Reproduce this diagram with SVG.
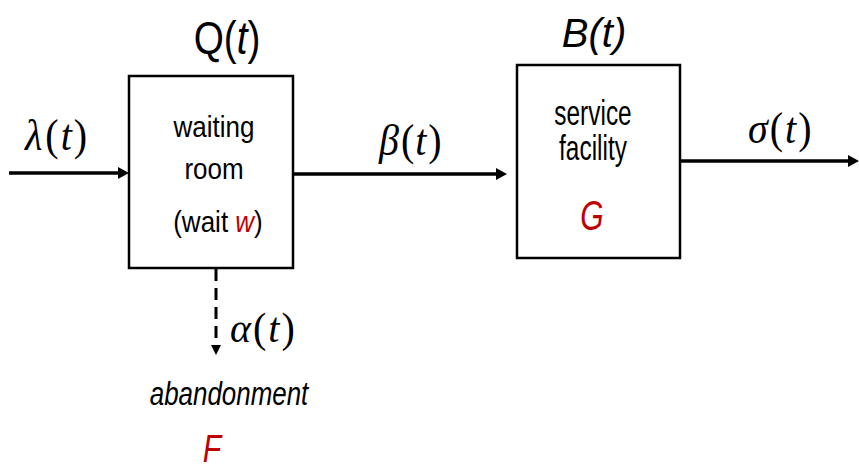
<svg xmlns="http://www.w3.org/2000/svg" width="859" height="470" viewBox="0 0 859 470">
<style>
.box{fill:#fff;stroke:#000;stroke-width:2.5}
.ln{stroke:#000;stroke-width:3.5;fill:none}
.dash{stroke:#000;stroke-width:3;fill:none;stroke-dasharray:12 7}
.sans{font-family:"Liberation Sans",Arial,sans-serif;fill:#000}
.math{font-family:"Liberation Serif","Times New Roman",serif;fill:#000;font-size:40px}
.it{font-style:italic}
.red{fill:#C00000}
</style>
<defs>
<marker id="ah" markerUnits="userSpaceOnUse" markerWidth="12" markerHeight="12" refX="0" refY="6" orient="auto">
<path d="M0,0 L11,6 L0,12 z" fill="#000"/>
</marker>
<marker id="ahs" markerUnits="userSpaceOnUse" markerWidth="12" markerHeight="12" refX="0" refY="5" orient="auto">
<path d="M0,0 L10,5 L0,10 z" fill="#000"/>
</marker>
</defs>
<g id="connectors">
<line class="ln" x1="9" y1="173" x2="118" y2="173" marker-end="url(#ah)"/>
<line class="ln" x1="293" y1="174" x2="496" y2="174" marker-end="url(#ah)"/>
<line class="ln" x1="680" y1="161" x2="848" y2="161" marker-end="url(#ah)"/>
<line class="dash" x1="216" y1="269" x2="216" y2="345" marker-end="url(#ahs)"/>
<text class="math" transform="translate(25 150) scale(1 1.1)"><tspan class="it">λ</tspan><tspan dx="3">(</tspan><tspan class="it" dx="2">t</tspan><tspan dx="2">)</tspan></text>
<text class="math" transform="translate(379 155) scale(1 1.12)"><tspan class="it">β</tspan><tspan dx="2">(</tspan><tspan class="it" dx="1">t</tspan><tspan dx="2">)</tspan></text>
<text class="math" transform="translate(748 143) scale(1 1.12)"><tspan class="it">σ</tspan><tspan dx="2">(</tspan><tspan class="it" dx="2">t</tspan><tspan dx="2">)</tspan></text>
<text class="math" transform="translate(230 342) scale(1 1.08)"><tspan class="it">α</tspan><tspan dx="2">(</tspan><tspan class="it" dx="2">t</tspan><tspan dx="2">)</tspan></text>
</g>
<g id="waiting-room">
<rect class="box" x="129" y="76" width="164" height="192"/>
<text class="sans" transform="translate(227 54) scale(0.88 1.05)" text-anchor="middle" font-size="44">Q(<tspan class="it">t</tspan>)</text>
<text class="sans" transform="translate(214 137) scale(1 1.1)" text-anchor="middle" font-size="26">waiting</text>
<text class="sans" transform="translate(214 179) scale(1 1.1)" text-anchor="middle" font-size="26">room</text>
<text class="sans" transform="translate(218 232) scale(1 1.1)" text-anchor="middle" font-size="26">(wait <tspan class="it red">w</tspan>)</text>
</g>
<g id="service-facility">
<rect class="box" x="517" y="65" width="163" height="193"/>
<text class="sans it" x="594" y="47" text-anchor="middle" font-size="40">B(t)</text>
<text class="sans" transform="translate(593 125) scale(0.74 1.05)" text-anchor="middle" font-size="33">service</text>
<text class="sans" transform="translate(593 160) scale(0.74 1.05)" text-anchor="middle" font-size="33">facility</text>
<text class="sans it red" transform="translate(592 230) scale(0.75 1.05)" text-anchor="middle" font-size="40">G</text>
</g>
<g id="abandonment">
<text class="sans it" transform="translate(229 405) scale(0.81 1.02)" text-anchor="middle" font-size="32">abandonment</text>
<text class="sans it red" transform="translate(212 462) scale(0.84 1.08)" text-anchor="middle" font-size="36">F</text>
</g>
</svg>
